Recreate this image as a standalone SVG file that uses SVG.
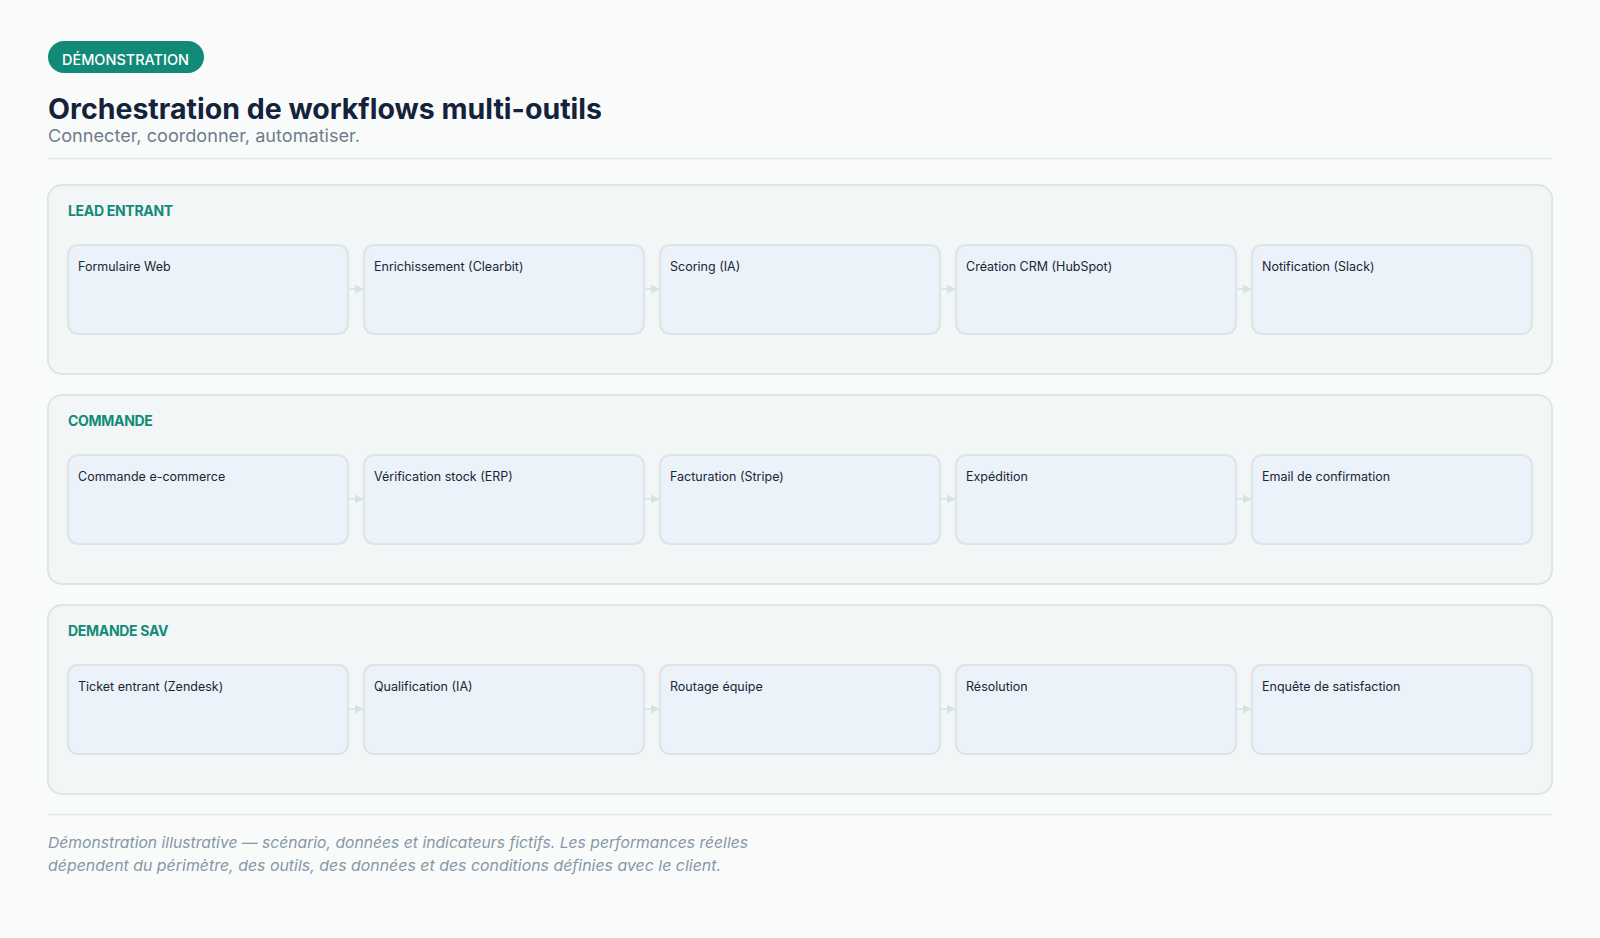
<svg xmlns="http://www.w3.org/2000/svg" width="1600" height="938" viewBox="0 0 1600 938">
<defs>
<style>
.bg{fill:#f9fbfb}
.panel{fill:#f2f6f6;stroke:#dce6e5;stroke-width:2}
.plabel{font-family:Inter,"Noto Sans",sans-serif;font-weight:700;font-size:14px;fill:#138a78;letter-spacing:-0.3px}
.node{fill:#ebf2f9;stroke:#dbe5e6;stroke-width:2}
.ntext{font-family:Inter,"Noto Sans",sans-serif;font-size:12.5px;fill:#1a2636}
.conn{stroke:#d6e3e1;stroke-width:1.5;fill:none}
.arr{fill:#d6e3e1}
.sep{stroke:#dfe9e8;stroke-width:1.5}
.foot{font-family:Inter,"Noto Sans",sans-serif;font-style:italic;font-size:15px;fill:#8797a6}
</style>
<marker id="ah" viewBox="0 0 10 10" refX="9" refY="5" markerWidth="6" markerHeight="6" orient="auto"><path d="M0,0 L10,5 L0,10 z" class="arr"/></marker>
</defs>
<rect class="bg" x="0" y="0" width="1600" height="938"/>
<g id="header">
<rect x="48" y="41" width="156" height="32" rx="16" fill="#128a78"/>
<text x="62" y="65" font-family="Inter,'Noto Sans',sans-serif" font-size="14.5" font-weight="500" fill="#ffffff" textLength="127" lengthAdjust="spacingAndGlyphs">DÉMONSTRATION</text>
<text x="48" y="119" font-family="Inter,'Noto Sans',sans-serif" font-size="28" font-weight="700" fill="#14233a" textLength="554" lengthAdjust="spacingAndGlyphs">Orchestration de workflows multi-outils</text>
<text x="48" y="142" font-family="Inter,'Noto Sans',sans-serif" font-size="17.5" fill="#6d7d8d" textLength="312" lengthAdjust="spacingAndGlyphs">Connecter, coordonner, automatiser.</text>
<line class="sep" x1="48" y1="158.5" x2="1552" y2="158.5"/>
</g>
<g id="panel-lead">
<rect class="panel" x="48" y="185" width="1504" height="189" rx="14"/>
<text class="plabel" x="68" y="216">LEAD ENTRANT</text>
</g>
<g id="panel-commande">
<rect class="panel" x="48" y="395" width="1504" height="189" rx="14"/>
<text class="plabel" x="68" y="426">COMMANDE</text>
</g>
<g id="panel-sav">
<rect class="panel" x="48" y="605" width="1504" height="189" rx="14"/>
<text class="plabel" x="68" y="636">DEMANDE SAV</text>
</g>
<g id="connectors">
<line class="conn" x1="349" y1="289" x2="363" y2="289" marker-end="url(#ah)"/>
<line class="conn" x1="645" y1="289" x2="659" y2="289" marker-end="url(#ah)"/>
<line class="conn" x1="941" y1="289" x2="955" y2="289" marker-end="url(#ah)"/>
<line class="conn" x1="1237" y1="289" x2="1251" y2="289" marker-end="url(#ah)"/>
<line class="conn" x1="349" y1="499" x2="363" y2="499" marker-end="url(#ah)"/>
<line class="conn" x1="645" y1="499" x2="659" y2="499" marker-end="url(#ah)"/>
<line class="conn" x1="941" y1="499" x2="955" y2="499" marker-end="url(#ah)"/>
<line class="conn" x1="1237" y1="499" x2="1251" y2="499" marker-end="url(#ah)"/>
<line class="conn" x1="349" y1="709" x2="363" y2="709" marker-end="url(#ah)"/>
<line class="conn" x1="645" y1="709" x2="659" y2="709" marker-end="url(#ah)"/>
<line class="conn" x1="941" y1="709" x2="955" y2="709" marker-end="url(#ah)"/>
<line class="conn" x1="1237" y1="709" x2="1251" y2="709" marker-end="url(#ah)"/>
</g>
<g id="n-lead-1"><rect class="node" x="68" y="245" width="280" height="89" rx="10"/><text class="ntext" x="78" y="271">Formulaire Web</text></g>
<g id="n-lead-2"><rect class="node" x="364" y="245" width="280" height="89" rx="10"/><text class="ntext" x="374" y="271">Enrichissement (Clearbit)</text></g>
<g id="n-lead-3"><rect class="node" x="660" y="245" width="280" height="89" rx="10"/><text class="ntext" x="670" y="271">Scoring (IA)</text></g>
<g id="n-lead-4"><rect class="node" x="956" y="245" width="280" height="89" rx="10"/><text class="ntext" x="966" y="271">Création CRM (HubSpot)</text></g>
<g id="n-lead-5"><rect class="node" x="1252" y="245" width="280" height="89" rx="10"/><text class="ntext" x="1262" y="271">Notification (Slack)</text></g>
<g id="n-cmd-1"><rect class="node" x="68" y="455" width="280" height="89" rx="10"/><text class="ntext" x="78" y="481">Commande e-commerce</text></g>
<g id="n-cmd-2"><rect class="node" x="364" y="455" width="280" height="89" rx="10"/><text class="ntext" x="374" y="481">Vérification stock (ERP)</text></g>
<g id="n-cmd-3"><rect class="node" x="660" y="455" width="280" height="89" rx="10"/><text class="ntext" x="670" y="481">Facturation (Stripe)</text></g>
<g id="n-cmd-4"><rect class="node" x="956" y="455" width="280" height="89" rx="10"/><text class="ntext" x="966" y="481">Expédition</text></g>
<g id="n-cmd-5"><rect class="node" x="1252" y="455" width="280" height="89" rx="10"/><text class="ntext" x="1262" y="481">Email de confirmation</text></g>
<g id="n-sav-1"><rect class="node" x="68" y="665" width="280" height="89" rx="10"/><text class="ntext" x="78" y="691">Ticket entrant (Zendesk)</text></g>
<g id="n-sav-2"><rect class="node" x="364" y="665" width="280" height="89" rx="10"/><text class="ntext" x="374" y="691">Qualification (IA)</text></g>
<g id="n-sav-3"><rect class="node" x="660" y="665" width="280" height="89" rx="10"/><text class="ntext" x="670" y="691">Routage équipe</text></g>
<g id="n-sav-4"><rect class="node" x="956" y="665" width="280" height="89" rx="10"/><text class="ntext" x="966" y="691">Résolution</text></g>
<g id="n-sav-5"><rect class="node" x="1252" y="665" width="280" height="89" rx="10"/><text class="ntext" x="1262" y="691">Enquête de satisfaction</text></g>
<g id="footer">
<line class="sep" x1="48" y1="814.5" x2="1552" y2="814.5"/>
<text class="foot" x="48" y="848" textLength="700" lengthAdjust="spacingAndGlyphs">Démonstration illustrative — scénario, données et indicateurs fictifs. Les performances réelles</text>
<text class="foot" x="48" y="871" textLength="673" lengthAdjust="spacingAndGlyphs">dépendent du périmètre, des outils, des données et des conditions définies avec le client.</text>
</g>
</svg>
